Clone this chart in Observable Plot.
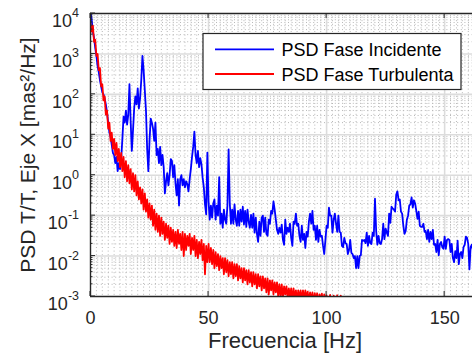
<!DOCTYPE html>
<html>
<head>
<meta charset="utf-8">
<script src="https://cdn.jsdelivr.net/npm/d3@7"></script>
<script src="https://cdn.jsdelivr.net/npm/@observablehq/plot@0.6"></script>
<style>
  html, body { margin: 0; padding: 0; background: #fff; }
  #chart svg { display: block; }
</style>
</head>
<body>
<div id="chart"></div>
<script>
// Frequency resolution of both spectra (Hz between consecutive samples)
const stepHz = 0.5;

// log10 of the PSD of the incident phase, one value every 0.5 Hz from 0 Hz
const incidenteLog10 = [
  4.05, 3.85, 3.55, 3.4, 3.15, 2.95, 2.7, 2.55, 2.35, 2.2, 2.05, 2.0, 1.9, 1.75, 1.55, 1.3, 1.05, 0.95, 0.75, 0.55,
  0.5, 0.3, 0.45, 0.1, 0.3, 0.15, 0.4, 0.9, 1.45, 1.3, 1.6, 1.25, 1.5, 2.25, 1.35, 0.6, 1.1, 1.65, 1.95, 1.75,
  2.15, 1.65, 1.9, 2.35, 2.95, 2.6, 2.1, 1.6, 0.65, 0.1, 0.85, 1.4, 1.3, 1.15, 0.85, 1.3, 0.5, 0.65, 0.3, 0.7,
  0.25, 0.5, 0.2, -0.45, -0.15, 0.05, -0.25, 0.0, 0.4, 0.35, -0.05, 0.25, -0.2, -0.5, -0.1, -0.75, -0.1, 0.0, -0.25, -0.1,
  -0.3, -0.15, -0.22, -0.4, -0.1, 0.15, 0.45, 0.7, 1.08, 0.5, 0.3, 0.6, 0.2, 0.42, 0.27, -0.06, -0.3, -0.72, -0.97, 0.56,
  -0.65, -1.1, -0.75, -1.05, -0.7, -0.6, -1.1, -0.75, -1.0, -0.05, -1.2, -0.95, -1.3, -0.85, -1.1, -1.2, -0.75, 0.64, -0.7, -1.2,
  -0.85, -1.2, -0.72, -1.1, -1.25, -0.88, -1.25, -0.85, -1.15, -0.78, -1.22, -0.88, -1.28, -0.85, -1.15, -1.3, -0.98, -1.3, -0.95, -1.42,
  -1.05, -1.45, -1.65, -1.15, -1.5, -1.05, -1.0, -1.4, -1.05, -1.45, -1.5, -1.1, -1.2, -0.88, -0.95, -0.65, -0.85, -1.1, -1.35, -1.45,
  -1.3, -1.42, -1.22, -1.6, -1.72, -1.1, -1.45, -1.3, -1.4, -1.2, -1.55, -1.75, -1.15, -1.2, -0.95, -1.25, -1.2, -1.5, -1.65, -1.25,
  -1.6, -1.45, -1.8, -1.4, -1.52, -1.15, -0.95, -1.2, -0.88, -1.35, -1.25, -1.6, -1.25, -1.65, -1.35, -1.52, -1.5, -1.75, -1.95, -1.6,
  -1.25, -1.3, -0.8, -1.0, -1.0, -1.42, -1.1, -0.95, -1.2, -1.4, -1.0, -1.4, -1.42, -1.75, -1.78, -1.55, -1.68, -1.7, -1.95, -1.85,
  -1.6, -1.92, -1.95, -2.05, -2.0, -2.3, -2.0, -2.3, -2.0, -1.98, -1.6, -1.62, -1.6, -1.68, -1.42, -1.75, -1.5, -1.68, -1.7, -1.42,
  -1.5, -0.58, -1.38, -1.72, -1.5, -1.68, -1.7, -1.58, -1.2, -1.58, -1.32, -1.42, -1.5, -0.95, -1.18, -0.78, -0.82, -0.85, -0.9, -0.48,
  -0.4, -0.62, -0.6, -0.9, -0.95, -1.25, -1.45, -1.38, -1.1, -1.0, -0.75, -0.72, -0.55, -0.8, -0.62, -0.7, -0.88, -1.08, -0.9, -1.25,
  -1.28, -1.28, -1.2, -1.4, -1.38, -1.58, -1.35, -1.65, -1.4, -1.58, -1.35, -1.72, -1.7, -1.9, -1.6, -1.98, -1.7, -1.65, -1.78, -1.82,
  -1.52, -1.82, -1.6, -1.58, -1.6, -1.9, -1.7, -2.05, -2.15, -1.88, -2.05, -1.62, -2.2, -1.95, -1.9, -2.05, -1.78, -1.72, -1.52, -1.55,
  -1.7, -2.33, -1.78, -1.72, -1.85
];

// log10 of the PSD of the turbulent phase, one value every 0.5 Hz from 0 Hz
const turbulentaLog10 = [
  3.75, 3.55, 3.7, 3.3, 3.35, 2.95, 3.0, 2.6, 2.65, 2.2, 2.25, 1.85, 1.95, 1.5, 1.6, 1.15, 1.3, 0.85, 1.05, 0.65,
  0.9, 0.5, 0.8, 0.35, 0.65, 0.2, 0.55, 0.1, 0.45, -0.05, 0.35, -0.15, 0.25, -0.2, 0.15, -0.35, 0.05, -0.4, 0.0, -0.5,
  -0.15, -0.6, -0.3, -0.7, -0.35, -0.85, -0.45, -0.9, -0.6, -1.05, -0.7, -1.1, -0.75, -1.25, -0.85, -1.35, -0.95, -1.4, -1.0, -1.5,
  -1.05, -1.45, -1.15, -1.6, -1.2, -1.55, -1.25, -1.7, -1.3, -1.65, -1.35, -1.75, -1.4, -1.8, -1.35, -1.7, -1.45, -1.85, -1.4, -2.0,
  -1.45, -1.85, -1.5, -1.75, -1.45, -1.95, -1.55, -1.85, -1.5, -2.0, -1.6, -2.05, -1.65, -1.95, -1.6, -2.1, -1.7, -2.45, -1.75, -2.15,
  -1.7, -2.15, -1.8, -2.2, -1.85, -2.3, -1.9, -2.25, -1.95, -2.35, -2.0, -2.3, -2.05, -2.45, -2.05, -2.4, -2.1, -2.5, -2.15, -2.45,
  -2.15, -2.55, -2.2, -2.5, -2.2, -2.6, -2.25, -2.55, -2.3, -2.65, -2.3, -2.6, -2.35, -2.7, -2.35, -2.65, -2.4, -2.75, -2.4, -2.7,
  -2.45, -2.8, -2.45, -2.75, -2.5, -2.85, -2.5, -2.8, -2.55, -2.9, -2.55, -2.95, -2.6, -2.85, -2.6, -2.95, -2.65, -2.9, -2.65, -3.0,
  -2.7, -3.0, -2.7, -3.05, -2.75, -2.95, -2.75, -3.05, -2.8, -3.0, -2.8, -3.1, -2.8, -3.05, -2.85, -3.1, -2.85, -3.05, -2.85, -3.1,
  -2.85, -3.1, -2.85, -3.05, -2.88, -3.15, -2.9, -3.1, -2.9, -3.15, -2.92, -3.1, -2.92, -3.2, -2.95, -3.1, -2.93, -3.2, -2.95, -3.15,
  -2.97, -3.2, -3.1, -2.96, -3.2, -3.1, -2.98, -3.25, -3.1, -2.97, -3.2, -3.15, -2.98, -3.25, -3.2
];

const seriesNames = ["PSD Fase Incidente", "PSD Fase Turbulenta"];
const seriesColors = ["#0000ff", "#ff0000"];
const xTicks = [0, 50, 100, 150];
const yExponents = [-3, -2, -1, 0, 1, 2, 3, 4];
const xLabel = "Frecuencia [Hz]";
const yLabel = "PSD T/T, Eje X [mas²/Hz]";

const toRows = (logs, name) => logs.map((v, i) => ({ f: i * stepHz, psd: 10 ** v, serie: name }));
const incidente = toRows(incidenteLog10, seriesNames[0]);
const turbulenta = toRows(turbulentaLog10, seriesNames[1]);

// Grid positions: major decades / ticks, dotted minor lines in between
const yMajor = yExponents.map(e => 10 ** e);
const yMinor = yExponents.slice(0, -1).flatMap(e => d3.range(2, 10).map(k => k * 10 ** e));
const xMinor = d3.range(0, 162, 2.5).filter(v => !xTicks.includes(v));

const font = "'Liberation Sans', Arial, Helvetica, sans-serif";
const axisColor = "#262626";

const chart = Plot.plot({
  width: 472,
  height: 360,
  marginLeft: 90,
  marginRight: 0,
  marginTop: 13,
  marginBottom: 64,
  style: { fontFamily: font, background: "#fff", overflow: "visible" },
  x: { domain: [0, 161.8], axis: null },
  y: { type: "log", domain: [1e-3, 1e4], axis: null },
  marks: [
    Plot.ruleX(xMinor, { stroke: "#b8b8b8", strokeWidth: 1, strokeDasharray: "1,2.6" }),
    Plot.ruleY(yMinor, { stroke: "#b8b8b8", strokeWidth: 1, strokeDasharray: "1,2.6" }),
    Plot.ruleX(xTicks.filter(d => d > 0), { stroke: "#dcdcdc", strokeWidth: 1.6 }),
    Plot.ruleY(yMajor.slice(1, -1), { stroke: "#dcdcdc", strokeWidth: 1.6 }),
    Plot.line(incidente, { x: "f", y: "psd", stroke: seriesColors[0], strokeWidth: 1.8, clip: true }),
    Plot.line(turbulenta, { x: "f", y: "psd", stroke: seriesColors[1], strokeWidth: 1.8, clip: true }),
    Plot.ruleX([0], { stroke: axisColor, strokeWidth: 1.4 }),
    Plot.ruleY([1e-3, 1e4], { stroke: axisColor, strokeWidth: 1.4 }),
    Plot.text(xTicks, {
      x: d => d, text: d => String(d), frameAnchor: "bottom", lineAnchor: "top",
      dy: 15, fontSize: 18, fill: axisColor
    }),
    Plot.text([xLabel], {
      text: d => d, frameAnchor: "bottom", dx: 3.5, dy: 51, fontSize: 22, fill: axisColor
    }),
    Plot.text([yLabel], {
      text: d => d, frameAnchor: "left", textAnchor: "middle", dx: -62, rotate: -90,
      fontSize: 21, fill: axisColor
    })
  ]
});

document.getElementById("chart").appendChild(chart);

// Tick marks (inward, box style), log tick labels with superscripts, and the legend
const svg = d3.select(chart);
const sx = chart.scale("x");
const sy = chart.scale("y");
const x0 = sx.apply(0);
const yTop = sy.apply(1e4);
const yBot = sy.apply(1e-3);

const ticks = svg.append("g").attr("stroke", axisColor).attr("stroke-width", 1);
xTicks.forEach(t => {
  const x = sx.apply(t);
  ticks.append("line").attr("x1", x).attr("x2", x).attr("y1", yBot).attr("y2", yBot - 5);
  ticks.append("line").attr("x1", x).attr("x2", x).attr("y1", yTop).attr("y2", yTop + 5);
});
yMajor.forEach(v => {
  const y = sy.apply(v);
  ticks.append("line").attr("x1", x0).attr("x2", x0 + 5).attr("y1", y).attr("y2", y);
});
yMinor.forEach(v => {
  const y = sy.apply(v);
  ticks.append("line").attr("x1", x0).attr("x2", x0 + 2.5).attr("y1", y).attr("y2", y);
});

const yLabels = svg.append("g")
  .attr("font-family", font).attr("fill", axisColor).attr("text-anchor", "end");
yExponents.forEach(e => {
  const y = sy.apply(10 ** e);
  const t = yLabels.append("text").attr("x", x0 - 11).attr("y", y + 14).attr("font-size", 18);
  t.append("tspan").text("10");
  t.append("tspan").attr("font-size", 12.5).attr("dy", -10).text(String(e));
});

const legend = svg.append("g").attr("font-family", font).attr("text-anchor", "start");
legend.append("rect")
  .attr("x", 203).attr("y", 33.5).attr("width", 258).attr("height", 56)
  .attr("fill", "#fff").attr("stroke", axisColor).attr("stroke-width", 1.2);
seriesNames.forEach((name, i) => {
  const y = 49.3 + i * 24.7;
  legend.append("line")
    .attr("x1", 215).attr("x2", 274).attr("y1", y).attr("y2", y)
    .attr("stroke", seriesColors[i]).attr("stroke-width", 1.8);
  legend.append("text")
    .attr("x", 281.5).attr("y", y + 7).attr("font-size", 18).attr("fill", "#000")
    .text(name);
});
</script>
</body>
</html>
